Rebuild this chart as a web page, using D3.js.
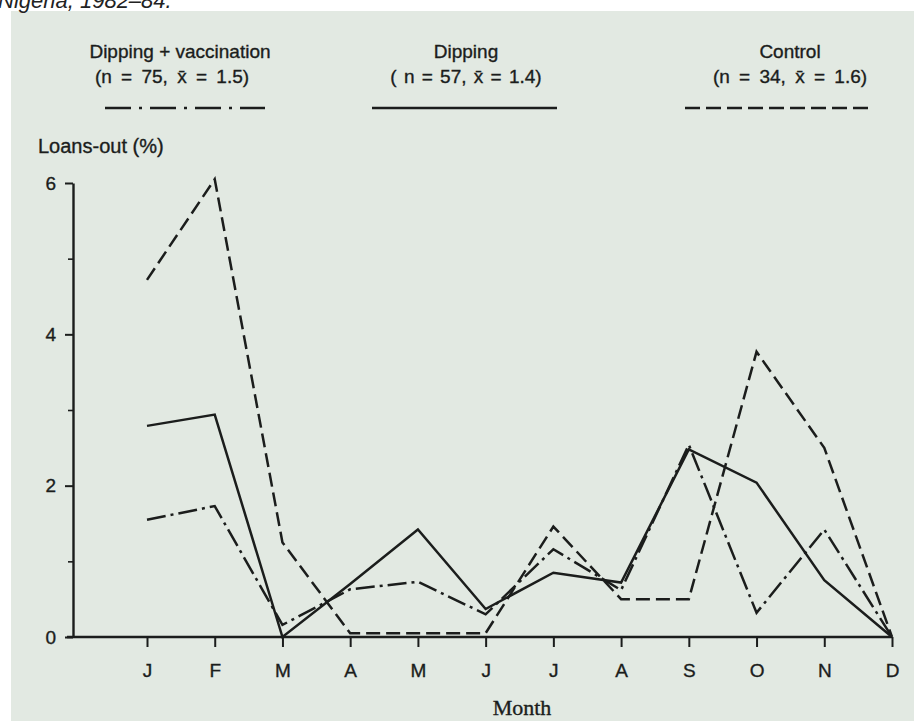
<!DOCTYPE html>
<html>
<head>
<meta charset="utf-8">
<script src="https://cdn.jsdelivr.net/npm/d3@7"></script>
<style>
  html, body { margin: 0; padding: 0; background: #ffffff; }
  svg { display: block; }
  .ink-text { stroke: #1b1d1c; stroke-width: 0.35px; }
</style>
</head>
<body>
<div id="chart"></div>
<script>
// ---------------- DATA ----------------
const months = ["J","F","M","A","M","J","J","A","S","O","N","D"];
const dippingVaccination = [1.55, 1.73, 0.16, 0.63, 0.73, 0.30, 1.16, 0.62, 2.54, 0.32, 1.42, 0];
const dipping            = [2.79, 2.94, 0.00, 0.70, 1.42, 0.37, 0.85, 0.72, 2.48, 2.04, 0.75, 0];
const control            = [4.72, 6.05, 1.25, 0.05, 0.05, 0.05, 1.46, 0.50, 0.50, 3.77, 2.50, 0];
const yMajorTicks = [0, 2, 4, 6];
const yMinorTicks = [1, 3, 5];
const seriesNames = ["Dipping + vaccination", "Dipping", "Control"];
const seriesStats = ["(n = 75, x\u0304 = 1.5)", "( n = 57, x\u0304 = 1.4)", "(n = 34, x\u0304 = 1.6)"];

// ---------------- LAYOUT ----------------
const W = 914, H = 721;
const ink = "#1b1d1c";
const paper = "#e2e9e2";
const axisX = 73, plotTop = 183, plotBottom = 637;
const firstX = 147, lastX = 892;

const svg = d3.select("#chart").append("svg")
  .attr("width", W).attr("height", H);

svg.append("rect").attr("x", 0).attr("y", 0).attr("width", W).attr("height", H).attr("fill", "#ffffff");
svg.append("rect").attr("x", 11).attr("y", 11).attr("width", W - 11).attr("height", H - 11).attr("fill", paper);

// caption of the page, cut off at the top edge as in the scan
svg.append("text")
  .attr("x", -2).attr("y", 8)
  .attr("font-family", "Liberation Sans, Arial, sans-serif")
  .attr("font-style", "italic")
  .attr("font-size", 22)
  .attr("fill", "#222")
  .text("Nigeria, 1982\u201384.");

const x = d3.scaleLinear().domain([0, months.length - 1]).range([firstX, lastX]);
const y = d3.scaleLinear().domain([0, 6]).range([plotBottom, plotTop]);

const font = "Liberation Sans, Arial, Helvetica, sans-serif";

// ---------------- AXES ----------------
svg.append("line")
  .attr("x1", axisX - 6).attr("x2", x(months.length - 1))
  .attr("y1", y(0)).attr("y2", y(0))
  .attr("stroke", ink).attr("stroke-width", 2.4);

const xAxis = svg.append("g")
  .attr("transform", `translate(0,${y(0)})`)
  .call(d3.axisBottom(x)
    .tickValues(d3.range(months.length))
    .tickFormat(i => months[i])
    .tickSize(10)
    .tickPadding(17)
    .tickSizeOuter(0));
xAxis.select(".domain").remove();
xAxis.selectAll(".tick line").attr("stroke", ink).attr("stroke-width", 2);
xAxis.selectAll(".tick text")
  .attr("class", "ink-text")
  .attr("font-family", font).attr("font-size", 19).attr("fill", ink);

const yAxis = svg.append("g")
  .attr("transform", `translate(${axisX},0)`)
  .call(d3.axisLeft(y)
    .tickValues(yMajorTicks)
    .tickFormat(d3.format("d"))
    .tickSize(8)
    .tickPadding(9)
    .tickSizeOuter(0));
yAxis.select(".domain").attr("stroke", ink).attr("stroke-width", 2.4);
yAxis.selectAll(".tick line").attr("stroke", ink).attr("stroke-width", 2);
yAxis.selectAll(".tick text")
  .attr("class", "ink-text")
  .attr("font-family", font).attr("font-size", 19).attr("fill", ink);

const yMinor = svg.append("g")
  .attr("transform", `translate(${axisX},0)`)
  .call(d3.axisLeft(y).tickValues(yMinorTicks).tickFormat("").tickSize(5).tickSizeOuter(0));
yMinor.select(".domain").remove();
yMinor.selectAll(".tick line").attr("stroke", ink).attr("stroke-width", 1.6);

// axis titles
svg.append("text")
  .attr("class", "ink-text")
  .attr("x", 38).attr("y", 153)
  .attr("font-family", font).attr("font-size", 20).attr("fill", ink)
  .text("Loans-out (%)");

svg.append("text")
  .attr("class", "ink-text")
  .attr("x", 522).attr("y", 715)
  .attr("text-anchor", "middle")
  .attr("font-family", "Liberation Serif, Times New Roman, serif")
  .attr("font-size", 22).attr("fill", ink)
  .text("Month");

// ---------------- LINES ----------------
const line = d3.line().x((d, i) => x(i)).y(d => y(d));

const styles = [
  { data: dippingVaccination, dash: "19,5,3,5", legendDash: "26,8,3,8" },
  { data: dipping, dash: null, legendDash: null },
  { data: control, dash: "14,6", legendDash: "15,6" }
];

styles.forEach(s => {
  svg.append("path")
    .datum(s.data)
    .attr("d", line)
    .attr("fill", "none")
    .attr("stroke", ink)
    .attr("stroke-width", 2.5)
    .attr("stroke-linejoin", "miter")
    .attr("stroke-miterlimit", 10)
    .attr("stroke-dasharray", s.dash);
});

// ---------------- LEGEND ----------------
const legendCenters = [180, 466, 790];
const legendLines = [[105, 265], [372, 557], [685, 873]];
const legendLineY = 108;

seriesNames.forEach((name, i) => {
  const g = svg.append("g");
  g.append("text")
    .attr("class", "ink-text")
    .attr("x", legendCenters[i]).attr("y", 58)
    .attr("text-anchor", "middle")
    .attr("font-family", font).attr("font-size", 19).attr("fill", ink)
    .text(name);
  g.append("text")
    .attr("class", "ink-text")
    .attr("x", legendCenters[i] - (i === 0 ? 8 : 0)).attr("y", 83)
    .attr("text-anchor", "middle")
    .attr("font-family", font).attr("font-size", 19).attr("fill", ink)
    .attr("word-spacing", i === 1 ? 2 : 4)
    .text(seriesStats[i]);
  g.append("line")
    .attr("x1", legendLines[i][0]).attr("x2", legendLines[i][1])
    .attr("y1", legendLineY).attr("y2", legendLineY)
    .attr("stroke", ink).attr("stroke-width", 2.5)
    .attr("stroke-dasharray", styles[i].legendDash);
});
</script>
</body>
</html>
